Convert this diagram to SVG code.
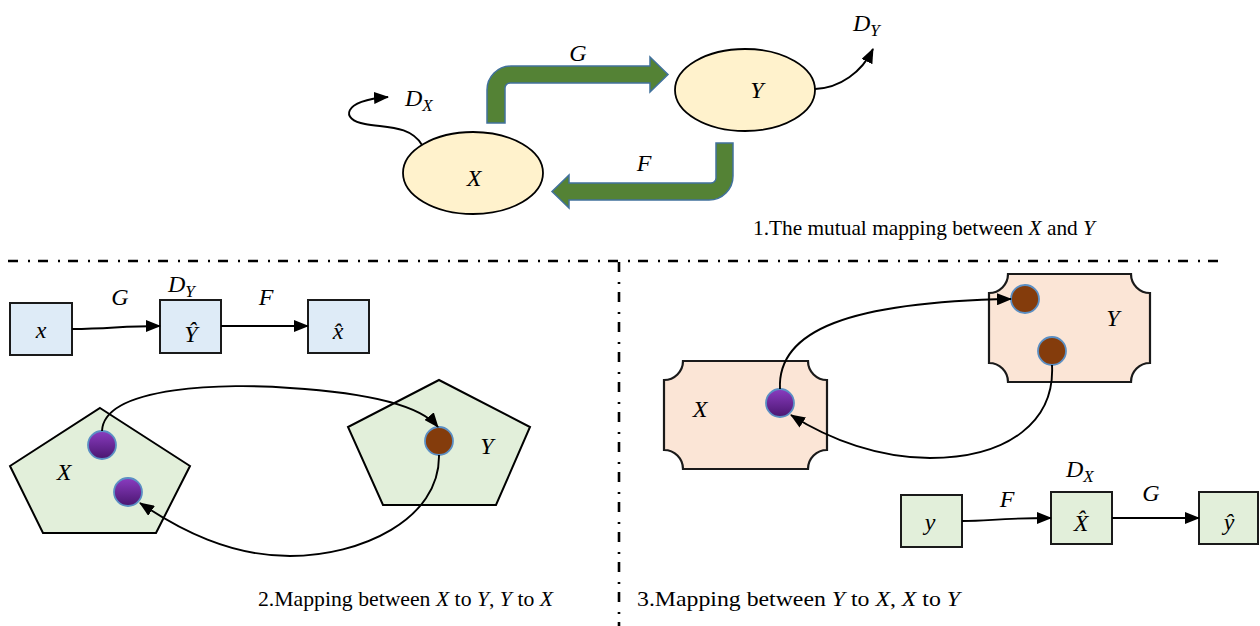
<svg xmlns="http://www.w3.org/2000/svg" width="1260" height="626" viewBox="0 0 1260 626">
<defs>
<marker id="ah" markerWidth="15" markerHeight="12" refX="14" refY="6" orient="auto" markerUnits="userSpaceOnUse">
<path d="M0,0 L15,6 L0,12 Z" fill="#000"/>
</marker>
<linearGradient id="pg" x1="0" y1="0" x2="0" y2="1">
<stop offset="0" stop-color="#8a3cc0"/>
<stop offset="1" stop-color="#4a1670"/>
</linearGradient>
<style>
.ell{fill:#fff2cc;stroke:#000;stroke-width:1.8}
.garrow{fill:#548235;stroke:#41719c;stroke-width:1.5}
.box{stroke:#1a1a1a;stroke-width:2}
.blue{fill:#deebf7}
.green{fill:#e2efda}
.pent{fill:#e2efda;stroke:#000;stroke-width:2}
.plaque{fill:#fbe5d6;stroke:#1a1a1a;stroke-width:2.2}
.pc{fill:url(#pg);stroke:#5b8fc4;stroke-width:1.8}
.bc{fill:#843c0c;stroke:#5b8fc4;stroke-width:1.8}
.m{font-family:"Liberation Serif",serif;font-style:italic;font-size:24px;fill:#000}
.sub{font-size:17px}
.cap{font-family:"Liberation Serif",serif;font-size:21px;fill:#000}
.ci{font-style:italic}
.con{fill:none;stroke:#000;stroke-width:1.9}
.div{fill:none;stroke:#000;stroke-width:2.6;stroke-dasharray:10 10 2 8}
</style>
</defs>

<g id="dividers">
<line class="div" x1="8" y1="261" x2="1220" y2="261"/>
<line class="div" x1="619" y1="262" x2="619" y2="626"/>
</g>

<!-- Section 1 -->
<g id="node-X1">
<ellipse class="ell" cx="473" cy="173" rx="70" ry="41"/>
<text class="m" x="474" y="186" text-anchor="middle">X</text>
</g>
<g id="node-Y1">
<ellipse class="ell" cx="745" cy="90" rx="70" ry="41"/>
<text class="m" x="757" y="98" text-anchor="middle">Y</text>
</g>
<g id="arrow-G1">
<path class="garrow" d="M487,123 V90 A24,24 0 0 1 511,66 H650 V57 L668,74.5 L650,92 V83 H510 A5,5 0 0 0 505,88 V123 Z"/>
<text class="m" x="578" y="61" text-anchor="middle">G</text>
</g>
<g id="arrow-F1">
<path class="garrow" d="M716,143 H733 V176 A24,24 0 0 1 709,200 H569 V208 L552,191.5 L569,175 V183 H711 A5,5 0 0 0 716,178 Z"/>
<text class="m" x="644" y="171" text-anchor="middle">F</text>
</g>
<g id="label-DX1">
<text class="m" x="405" y="106">D<tspan class="sub" dy="5">X</tspan></text>
</g>
<g id="label-DY1">
<text class="m" x="853" y="31">D<tspan class="sub" dy="5">Y</tspan></text>
</g>
<g id="caption1">
<text class="cap" x="753" y="235" textLength="342" lengthAdjust="spacingAndGlyphs">1.The mutual mapping between <tspan class="ci">X</tspan> and <tspan class="ci">Y</tspan></text>
</g>

<!-- Section 2 -->
<g id="box-x">
<rect class="box blue" x="10" y="303" width="62" height="52"/>
<text class="m" x="41" y="338" text-anchor="middle">x</text>
</g>
<g id="box-Yhat">
<rect class="box blue" x="160" y="300" width="61" height="53"/>
<text class="m" x="191" y="342" text-anchor="middle">Ŷ</text>
</g>
<g id="box-xhat">
<rect class="box blue" x="308" y="300" width="61" height="53"/>
<text class="m" x="338" y="339" text-anchor="middle">x̂</text>
</g>
<g id="labels2">
<text class="m" x="120" y="305" text-anchor="middle">G</text>
<text class="m" x="168" y="292">D<tspan class="sub" dy="5">Y</tspan></text>
<text class="m" x="266" y="305" text-anchor="middle">F</text>
</g>
<g id="pent-X">
<polygon class="pent" points="100,408 190,466 156,533 43,533 10,466"/>
<text class="m" x="64" y="480" text-anchor="middle">X</text>
<ellipse class="pc" cx="102" cy="445" rx="14" ry="14"/>
<ellipse class="pc" cx="128" cy="492" rx="14" ry="14"/>
</g>
<g id="pent-Y">
<polygon class="pent" points="439,380 530,427 496,505 383,505 348,427"/>
<text class="m" x="487" y="454" text-anchor="middle">Y</text>
<ellipse class="bc" cx="439" cy="441" rx="14" ry="14"/>
</g>
<g id="caption2">
<text class="cap" x="258" y="606" textLength="295" lengthAdjust="spacingAndGlyphs">2.Mapping between <tspan class="ci">X</tspan> to <tspan class="ci">Y</tspan>, <tspan class="ci">Y</tspan> to <tspan class="ci">X</tspan></text>
</g>

<!-- Section 3 -->
<g id="plaque-X">
<path class="plaque" d="M683,361 H808 A19,19 0 0 0 827,380 V450 A19,19 0 0 0 808,469 H683 A19,19 0 0 0 664,450 V380 A19,19 0 0 0 683,361 Z"/>
<text class="m" x="700" y="417" text-anchor="middle">X</text>
<ellipse class="pc" cx="780" cy="403" rx="14" ry="14"/>
</g>
<g id="plaque-Y">
<path class="plaque" d="M1008,274 H1131 A19,19 0 0 0 1150,293 V363 A19,19 0 0 0 1131,382 H1008 A19,19 0 0 0 989,363 V293 A19,19 0 0 0 1008,274 Z"/>
<text class="m" x="1113" y="326" text-anchor="middle">Y</text>
<ellipse class="bc" cx="1025" cy="299" rx="14" ry="14"/>
<ellipse class="bc" cx="1052" cy="351" rx="14" ry="14"/>
</g>
<g id="box-y">
<rect class="box green" x="901" y="495" width="61" height="52"/>
<text class="m" x="930" y="530" text-anchor="middle">y</text>
</g>
<g id="box-Xhat">
<rect class="box green" x="1051" y="492" width="61" height="52"/>
<text class="m" x="1081" y="531" text-anchor="middle">X̂</text>
</g>
<g id="box-yhat">
<rect class="box green" x="1199" y="492" width="59" height="52"/>
<text class="m" x="1229" y="530" text-anchor="middle">ŷ</text>
</g>
<g id="labels3">
<text class="m" x="1007" y="507" text-anchor="middle">F</text>
<text class="m" x="1066" y="477">D<tspan class="sub" dy="5">X</tspan></text>
<text class="m" x="1151" y="501" text-anchor="middle">G</text>
</g>
<g id="caption3">
<text class="cap" x="637" y="606" textLength="323" lengthAdjust="spacingAndGlyphs">3.Mapping between <tspan class="ci">Y</tspan> to <tspan class="ci">X</tspan>, <tspan class="ci">X</tspan> to <tspan class="ci">Y</tspan></text>
</g>

<g id="connectors">
<path class="con" marker-end="url(#ah)" d="M422,145 C410,125 385,128 365,124 C340,120 342,100 388,97"/>
<path class="con" marker-end="url(#ah)" d="M815,89 C840,88 862,72 873,49"/>
<path class="con" marker-end="url(#ah)" d="M72,329 C110,329 120,326 160,326"/>
<path class="con" marker-end="url(#ah)" d="M221,326 L308,326"/>
<path class="con" marker-end="url(#ah)" d="M102,431 C104,385 230,383 290,388 C370,393 420,405 438,427"/>
<path class="con" marker-end="url(#ah)" d="M439,455 C440,520 360,556 290,556 C230,556 180,530 140,503"/>
<path class="con" marker-end="url(#ah)" d="M780,389 C777,330 850,302 1011,299"/>
<path class="con" marker-end="url(#ah)" d="M1052,365 C1055,420 1010,458 930,458 C880,458 830,440 791,415"/>
<path class="con" marker-end="url(#ah)" d="M962,521 C990,521 1000,518 1051,518"/>
<path class="con" marker-end="url(#ah)" d="M1112,518 L1199,518"/>
</g>
</svg>
